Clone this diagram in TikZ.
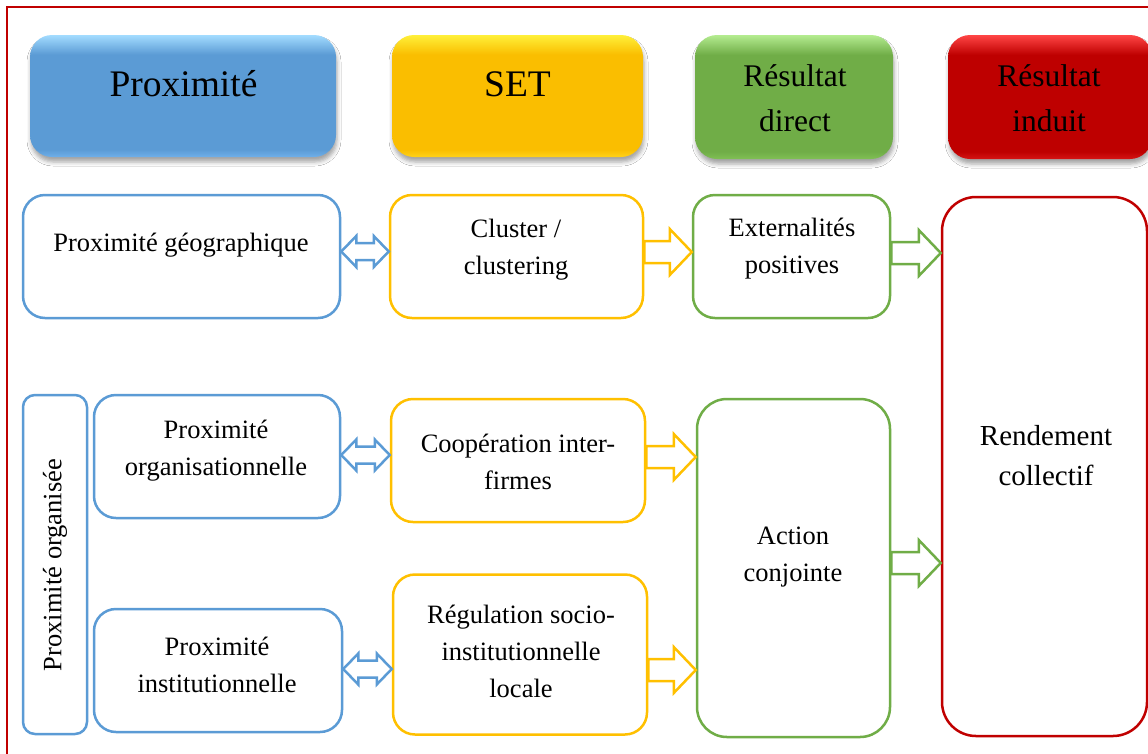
\documentclass[tikz,border=0pt]{standalone}
\usepackage{fontspec}
\setmainfont{Liberation Serif}
\usetikzlibrary{calc,shadows,shadows.blur}
\definecolor{cB}{HTML}{5B9BD5}
\definecolor{cO}{HTML}{FFC000}
\definecolor{cG}{HTML}{70AD47}
\definecolor{cR}{HTML}{C00000}
\definecolor{bTop}{HTML}{A3DCFF}
\definecolor{bBase}{HTML}{5B9BD5}
\definecolor{bBot}{HTML}{70B0EA}
\definecolor{oTop}{HTML}{FFF03A}
\definecolor{oBase}{HTML}{FABE00}
\definecolor{oBot}{HTML}{FFD21A}
\definecolor{gTop}{HTML}{B4EC90}
\definecolor{gBase}{HTML}{70AD47}
\definecolor{gBot}{HTML}{80C055}
\definecolor{rTop}{HTML}{FF4545}
\definecolor{rBase}{HTML}{BE0000}
\definecolor{rBot}{HTML}{D51515}
\pgfdeclareverticalshading{glossB}{100bp}{color(0bp)=(bBot); color(25bp)=(bBot); color(28bp)=(bBase); color(67bp)=(bBase); color(75bp)=(bTop); color(100bp)=(bTop)}
\pgfdeclareverticalshading{glossO}{100bp}{color(0bp)=(oBot); color(25bp)=(oBot); color(28bp)=(oBase); color(67bp)=(oBase); color(75bp)=(oTop); color(100bp)=(oTop)}
\pgfdeclareverticalshading{glossG}{100bp}{color(0bp)=(gBot); color(25bp)=(gBot); color(28bp)=(gBase); color(67bp)=(gBase); color(75bp)=(gTop); color(100bp)=(gTop)}
\pgfdeclareverticalshading{glossR}{100bp}{color(0bp)=(rBot); color(25bp)=(rBot); color(28bp)=(rBase); color(67bp)=(rBase); color(75bp)=(rTop); color(100bp)=(rTop)}
\tikzset{
  box/.style={draw, line width=2.5pt, rounded corners=22pt, fill=white, inner sep=0pt},
  bluebox/.style={box, draw=cB},
  orangebox/.style={box, draw=cO},
  greenbox/.style={box, draw=cG},
  redbox/.style={box, draw=cR},
  hdr/.style={rounded corners=22pt, inner sep=0pt, draw=none,
    blur shadow={shadow xshift=1pt, shadow yshift=-5pt, shadow opacity=35, shadow blur radius=4pt}},
  lbl/.style={align=center, inner sep=0pt, font=\fontsize{26.5}{37}\selectfont},
  biglbl/.style={align=center, inner sep=0pt, font=\fontsize{29}{40}\selectfont},
  hlbl/.style={align=center, inner sep=0pt, font=\fontsize{37.5}{45}\selectfont},
  hlbltwo/.style={align=center, inner sep=0pt, font=\fontsize{31.5}{45}\selectfont},
  fatarrow/.style={line width=2.5pt, fill=white, line join=miter},
}
\newcommand{\singlearr}[4]{%
  \draw[fatarrow, draw=#1] let \p1=(#2.east), \p2=(#3.west), \p3=(0,#4) in
   (\x1,\y3+11pt) -- (\x2-22pt,\y3+11pt) -- (\x2-22pt,\y3+23pt) -- (\x2,\y3)
   -- (\x2-22pt,\y3-23pt) -- (\x2-22pt,\y3-11pt) -- (\x1,\y3-11pt) -- cycle;}
\newcommand{\doublearr}[4]{%
  \draw[fatarrow, draw=#1] let \p1=(#2.east), \p2=(#3.west), \p3=(0,#4) in
   (\x1,\y3) -- (\x1+15pt,\y3+15.5pt) -- (\x1+15pt,\y3+8.5pt) -- (\x2-15pt,\y3+8.5pt)
   -- (\x2-15pt,\y3+15.5pt) -- (\x2,\y3) -- (\x2-15pt,\y3-15.5pt) -- (\x2-15pt,\y3-8.5pt)
   -- (\x1+15pt,\y3-8.5pt) -- (\x1+15pt,\y3-15.5pt) -- cycle;}
\begin{document}
\begin{tikzpicture}[x=1pt,y=-1pt]
\useasboundingbox (0,0) rectangle (1148,753);
\clip (0,0) rectangle (1148,753);
\fill[white] (0,0) rectangle (1148,753);
% outer frame
\draw[cR, line width=2pt] (7,7) rectangle (1200,800);

% headers
\node[hdr, shading=glossB, minimum width=306pt, minimum height=122pt] (h1) at (183,96) {};
\node[hdr, shading=glossO, minimum width=251pt, minimum height=122pt] (h2) at (517.5,96) {};
\node[hdr, shading=glossG, minimum width=198pt, minimum height=124pt] (h3) at (794,97) {};
\node[hdr, shading=glossR, minimum width=204pt, minimum height=124pt] (h4) at (1050,97) {};
\node[hlbl, anchor=base] (h1t) at (183.5,96) {Proximité};
\node[hlbl, anchor=base] (h2t) at (517.5,96) {SET};
\node[hlbltwo] (h3t) at (795,98) {Résultat\\direct};
\node[hlbltwo] (h4t) at (1049,98) {Résultat\\induit};

% boxes
\node[bluebox, minimum width=317pt, minimum height=123pt] (pg) at (181.5,256.5) {};
\node[orangebox, minimum width=253pt, minimum height=123pt] (cl) at (516.5,256.5) {};
\node[greenbox, minimum width=197pt, minimum height=123pt] (ex) at (791.5,256.5) {};
\node[redbox, rounded corners=34pt, minimum width=205pt, minimum height=539pt] (rc) at (1044.5,466.5) {};
\node[bluebox, rounded corners=12pt, minimum width=64pt, minimum height=339pt] (po) at (55,564.5) {};
\node[bluebox, minimum width=246pt, minimum height=123pt] (por) at (217,456.5) {};
\node[bluebox, minimum width=248pt, minimum height=123pt] (pin) at (218,670.5) {};
\node[orangebox, minimum width=254pt, minimum height=123pt] (co) at (518,460.5) {};
\node[orangebox, minimum width=254pt, minimum height=160pt] (re) at (520,654.5) {};
\node[greenbox, rounded corners=30pt, minimum width=193pt, minimum height=338pt] (ac) at (793.5,568) {};

% labels
\node[lbl] (pgt) at (181,245) {Proximité géographique};
\node[lbl] (clt) at (516,249.5) {Cluster /\\clustering};
\node[lbl] (ext) at (792,249) {Externalités\\positives};
\node[biglbl] (rct) at (1046,456) {Rendement\\collectif};
\node[lbl, rotate=90] (pot) at (55,565) {Proximité organisée};
\node[lbl] (port) at (216,450.5) {Proximité\\organisationnelle};
\node[lbl] (pint) at (217,664.5) {Proximité\\institutionnelle};
\node[lbl] (cot) at (518,462) {Coopération inter-\\firmes};
\node[lbl] (ret) at (521,651) {Régulation socio-\\institutionnelle\\locale};
\node[lbl] (act) at (793,557) {Action\\conjointe};

% arrows
\doublearr{cB}{pg}{cl}{251.5}
\doublearr{cB}{por}{co}{455}
\doublearr{cB}{pin}{re}{669}
\singlearr{cO}{cl}{ex}{252}
\singlearr{cO}{co}{ac}{457}
\singlearr{cO}{re}{ac}{670}
\singlearr{cG}{ex}{rc}{253}
\singlearr{cG}{ac}{rc}{563}
\end{tikzpicture}
\end{document}
